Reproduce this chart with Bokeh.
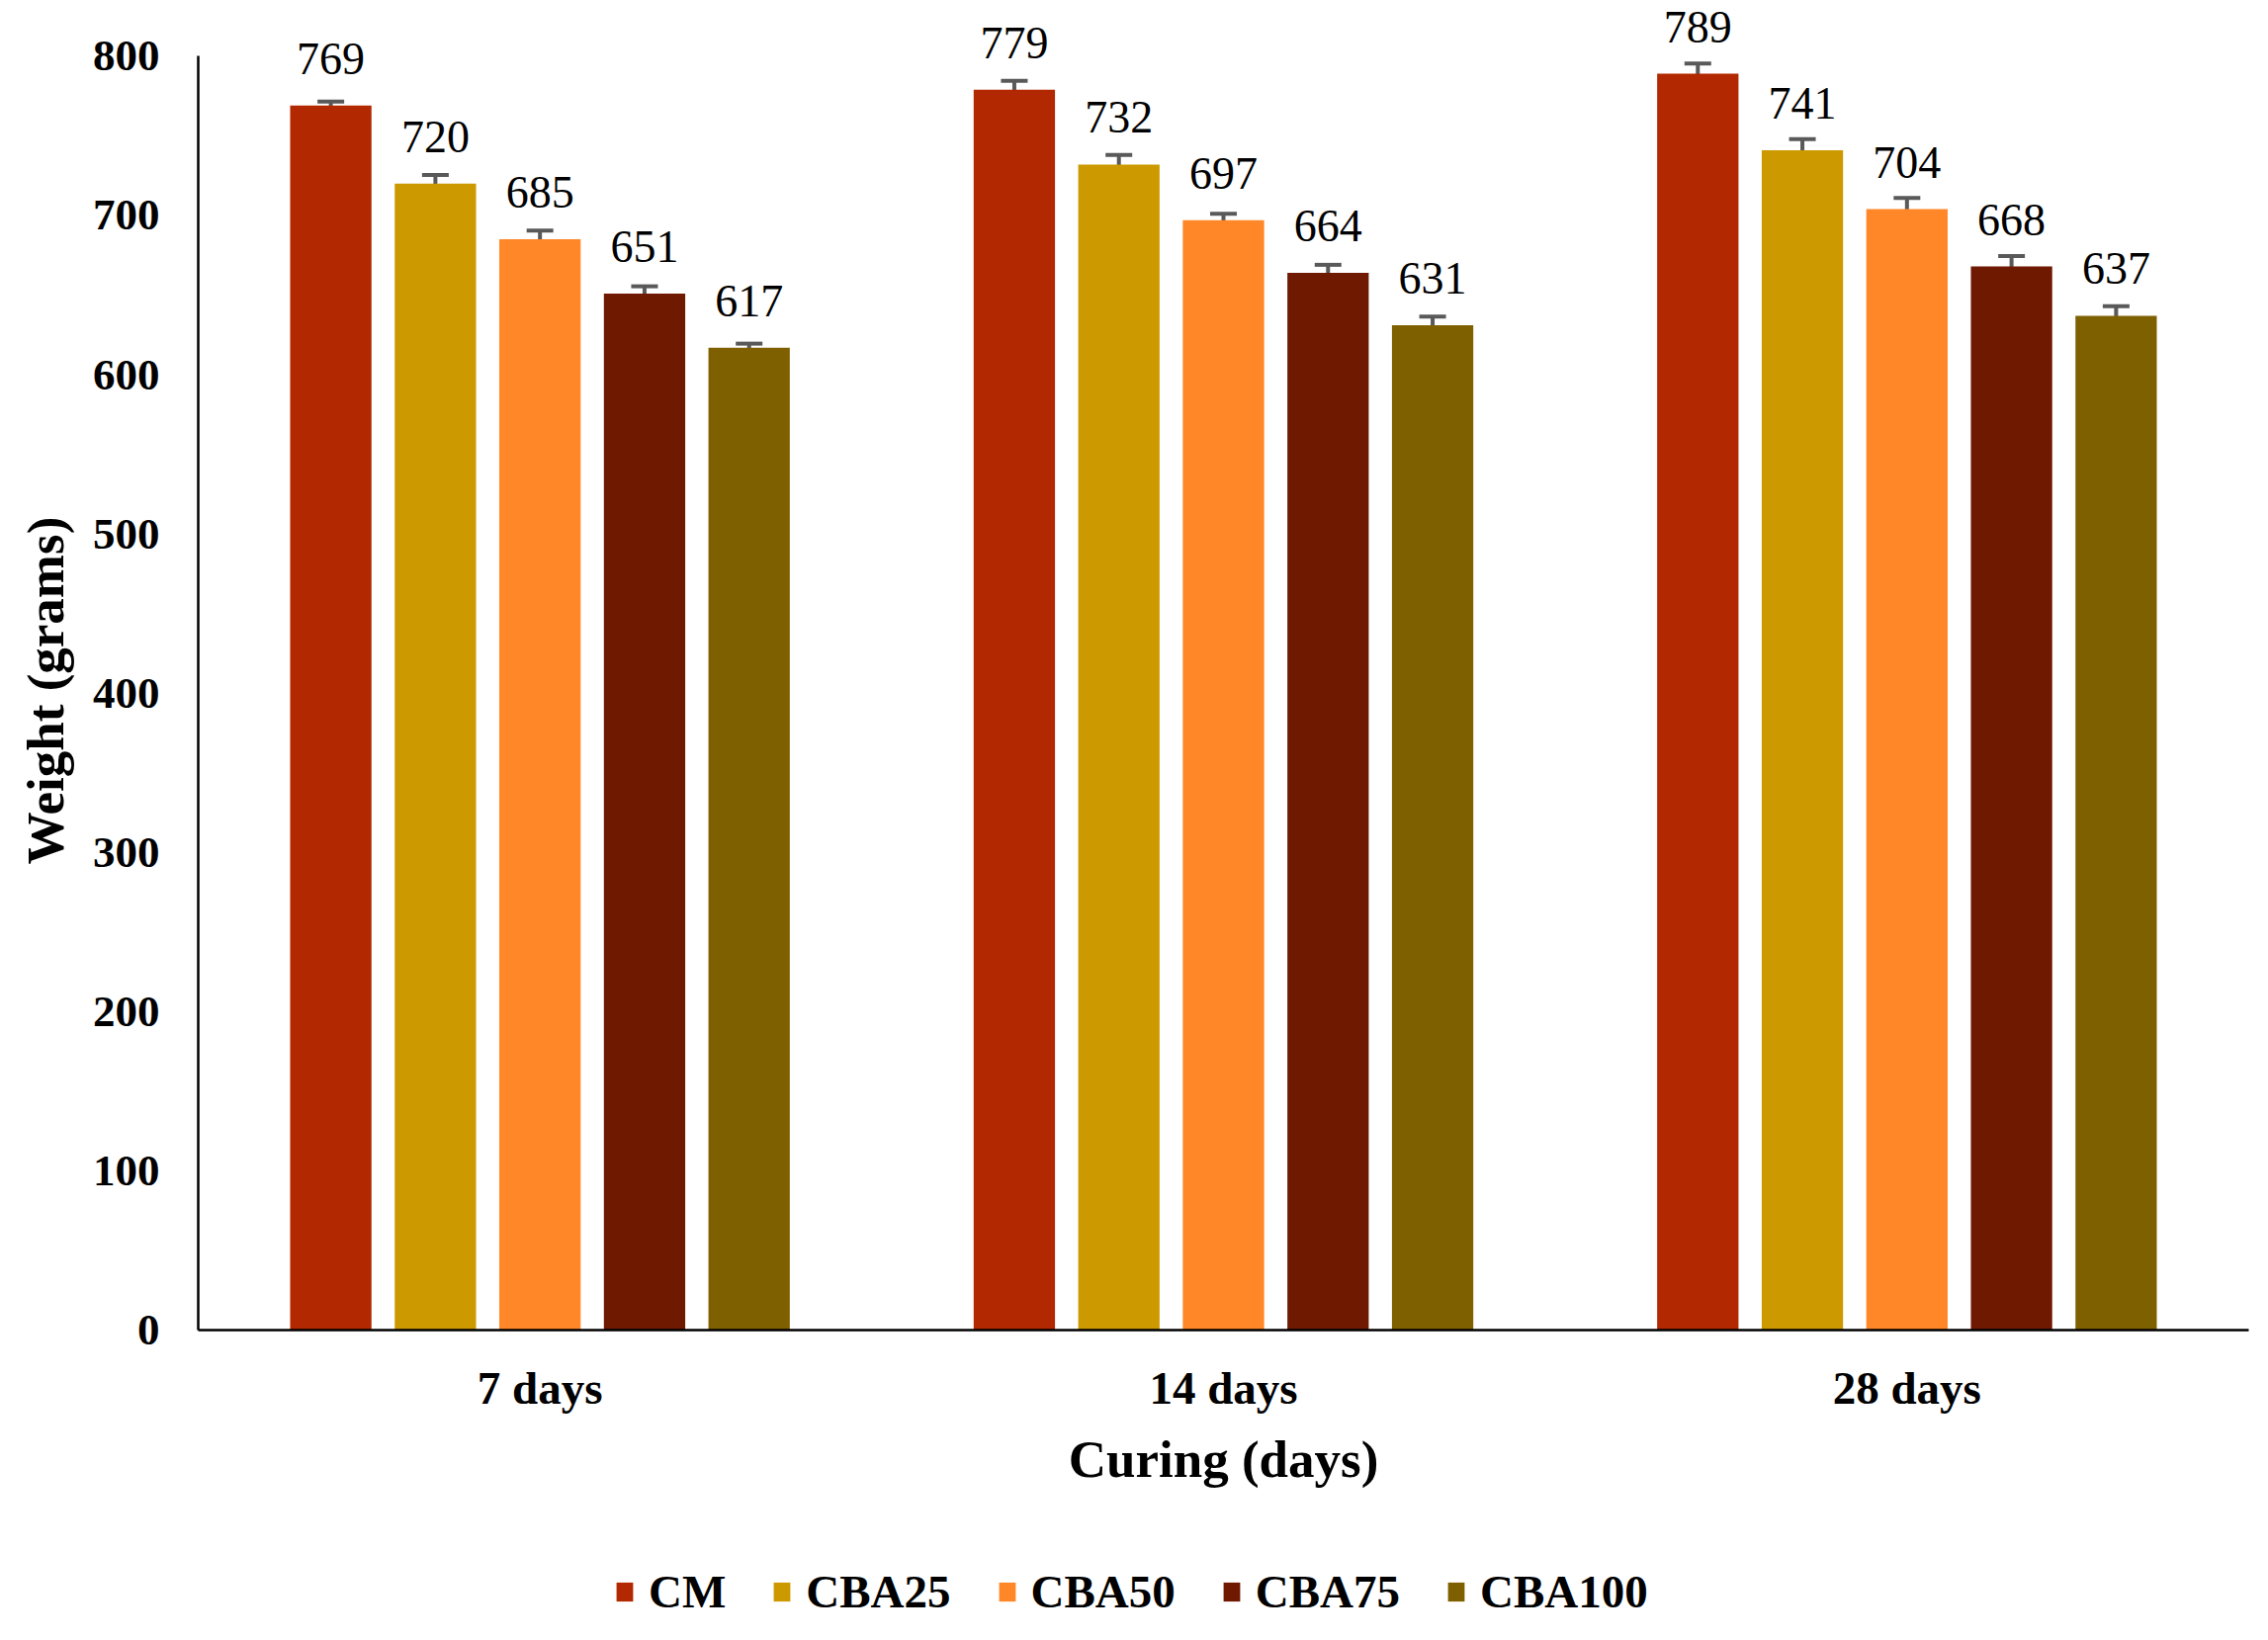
# Bar chart of weight vs curing time with error bars
from bokeh.plotting import figure
from bokeh.layouts import column
from bokeh.models import (ColumnDataSource, FactorRange, Range1d, Whisker, TeeHead,
                          Legend, LegendItem, SingleIntervalTicker, LabelSet, Title)
from bokeh.transform import dodge
from bokeh.embed import file_html
from bokeh.resources import INLINE

########################################################################################################################
# Data

days = ["7 days", "14 days", "28 days"]
series = ["CM", "CBA25", "CBA50", "CBA75", "CBA100"]
colors = ["#B22800", "#CC9900", "#FF8728", "#6E1900", "#7F6000"]

cm = [769, 779, 789]
cba25 = [720, 732, 741]
cba50 = [685, 697, 704]
cba75 = [651, 664, 668]
cba100 = [617, 631, 637]

cm_err = [2.5, 5.5, 6.5]
cba25_err = [5.5, 6, 7]
cba50_err = [5.5, 4, 7]
cba75_err = [4.5, 5, 6.5]
cba100_err = [2.5, 5.5, 6]

values = [cm, cba25, cba50, cba75, cba100]
errors = [cm_err, cba25_err, cba50_err, cba75_err, cba100_err]
offsets = [-0.306, -0.153, 0.0, 0.153, 0.306]

FONT = "Liberation Serif"

########################################################################################################################
# Main figure
# y range goes a bit past 800 so the value labels are not clipped; the axis line stops at 800

p = figure(x_range=FactorRange(factors=days, range_padding=0),
           y_range=Range1d(0, 835),
           width=2278, height=1577,
           output_backend="svg", toolbar_location=None,
           min_border_left=200, min_border_right=4,
           min_border_top=0, min_border_bottom=232)

p.outline_line_color = None
p.xgrid.grid_line_color = None
p.ygrid.grid_line_color = None

for vals, errs, off, col in zip(values, errors, offsets, colors):
    src = ColumnDataSource(dict(
        day=days,
        val=vals,
        upper=[v + e for v, e in zip(vals, errs)],
        lower=[v - e for v, e in zip(vals, errs)],
        label=[str(v) for v in vals],
    ))
    p.vbar(x=dodge("day", off, range=p.x_range), top="val", width=0.119,
           source=src, fill_color=col, line_color=None)

    w = Whisker(base=dodge("day", off, range=p.x_range), upper="upper", lower="lower",
                source=src, line_color="#595959", line_width=4,
                upper_head=TeeHead(size=27, line_color="#595959", line_width=4),
                lower_head=TeeHead(size=27, line_color="#595959", line_width=4))
    p.add_layout(w)

    labels = LabelSet(x=dodge("day", off, range=p.x_range), y="val", text="label", source=src,
                      text_align="center", text_baseline="alphabetic", y_offset=32,
                      text_font=FONT, text_font_size="46px", text_color="black")
    p.add_layout(labels)

# axes
for ax in (p.xaxis, p.yaxis):
    ax.axis_line_color = "black"
    ax.axis_line_width = 2.5
    ax.major_tick_line_color = None
    ax.minor_tick_line_color = None
    ax.major_label_text_font = FONT
    ax.major_label_text_font_style = "bold"
    ax.major_label_text_color = "black"
    ax.axis_label_text_font = FONT
    ax.axis_label_text_font_style = "bold"
    ax.axis_label_text_color = "black"
    ax.axis_label_text_font_size = "53px"

p.yaxis.ticker = SingleIntervalTicker(interval=100)
p.yaxis.bounds = (0, 800)
p.yaxis.major_label_text_font_size = "45px"
p.yaxis.major_label_standoff = 33

# y title centred on the 0-800 axis line rather than on the whole frame
ytitle = Title(text="Weight (grams)", align="left", vertical_align="middle", offset=471, standoff=30,
               text_font=FONT, text_font_style="bold", text_font_size="53px", text_color="black")
p.add_layout(ytitle, "left")

p.xaxis.major_label_text_font_size = "47px"
p.xaxis.major_label_standoff = 26
p.xaxis.axis_label = "Curing (days)"
p.xaxis.axis_label_standoff = 14

########################################################################################################################
# Legend strip below the chart (legends are clipped to the frame, so it gets its own figure)

leg = figure(width=2278, height=66, x_range=(0, 1), y_range=(0, 1),
             output_backend="svg", toolbar_location=None,
             x_axis_location=None, y_axis_location=None, min_border=0)
leg.outline_line_color = None
leg.xgrid.grid_line_color = None
leg.ygrid.grid_line_color = None

legend_items = []
for name, col in zip(series, colors):
    # zero-height placeholder bar, only there to give the legend its swatch
    r = leg.vbar(x=[0.5], top=[0], bottom=[0], width=0.0, fill_color=col, line_color=None)
    legend_items.append(LegendItem(label=name, renderers=[r]))

legend = Legend(items=legend_items, orientation="horizontal", location=(421, 6),
                label_text_font=FONT, label_text_font_style="bold",
                label_text_font_size="47px", label_text_color="black",
                glyph_width=21, glyph_height=24, label_standoff=14, spacing=46,
                padding=0, margin=0, border_line_color=None, background_fill_alpha=0)
leg.add_layout(legend, "center")

layout = column(p, leg)

open("out.html", "w").write(file_html(layout, INLINE))
